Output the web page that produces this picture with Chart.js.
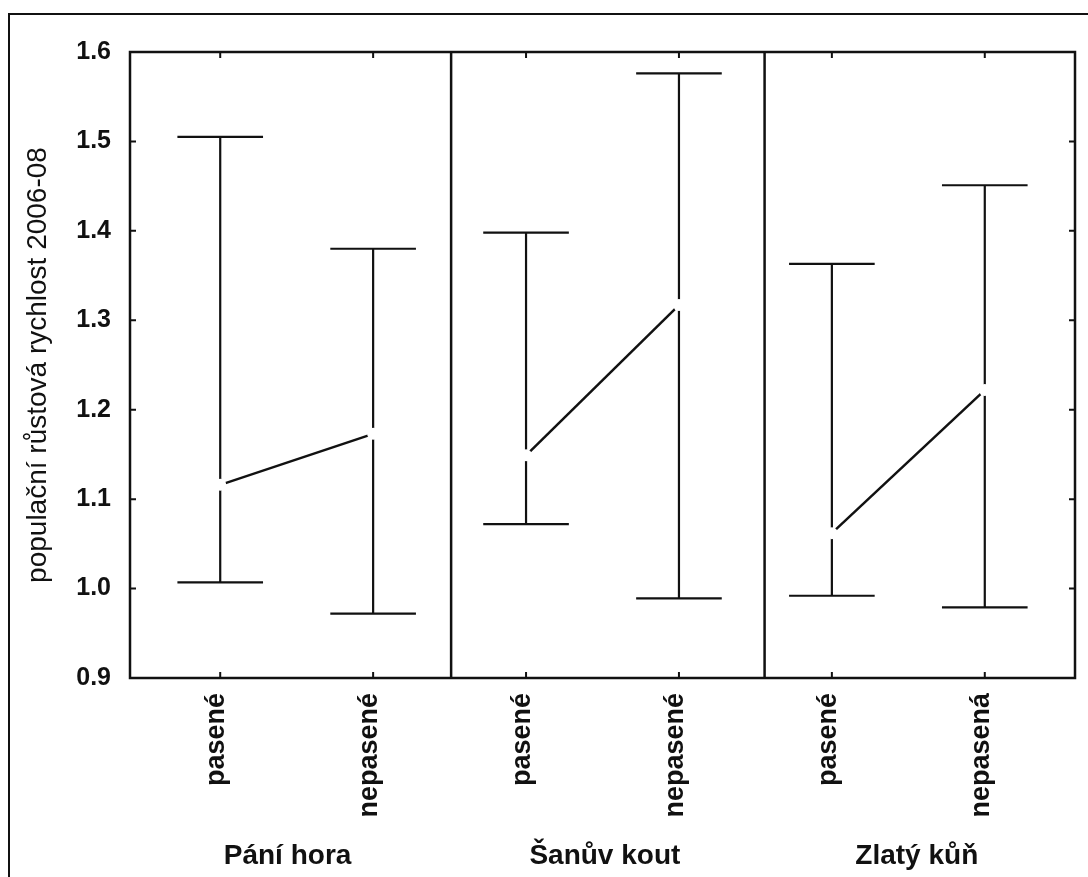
<!DOCTYPE html>
<html>
<head>
<meta charset="utf-8">
<script src="https://cdn.jsdelivr.net/npm/chart.js@4"></script>
<style>
  html, body { margin: 0; padding: 0; background: #fff; overflow: hidden; }
  #wrap { position: relative; width: 1088px; height: 877px; overflow: hidden; }
  #frame { position: absolute; left: 8px; top: 13px; width: 1200px; height: 1000px; border: 2px solid #111; }
  canvas { position: absolute; left: 0; top: 0; }
</style>
</head>
<body>
<div id="wrap">
  <div id="frame"></div>
  <canvas id="chart" width="1088" height="877"></canvas>
</div>
<script>
const sites = ['Pání hora', 'Šanův kout', 'Zlatý kůň'];
const treatments = ['pasené', 'nepasené', 'pasené', 'nepasené', 'pasené', 'nepasená'];
const means = [1.116, 1.173, 1.149, 1.317, 1.062, 1.222];
const upper = [1.505, 1.380, 1.398, 1.576, 1.363, 1.451];
const lower = [1.007, 0.972, 1.072, 0.989, 0.992, 0.979];
const yTicks = [0.9, 1.0, 1.1, 1.2, 1.3, 1.4, 1.5, 1.6];

const ink = '#111';
const family = '"Liberation Sans", Arial, sans-serif';
// where the panel separators sit on the x scale
const dividerAt = [1.51, 3.56];
const capHalf = 0.28;

// one line per site joining its two means
const datasets = sites.map((site, g) => ({
  label: site,
  data: [0, 1].map(j => ({ x: g * 2 + j, y: means[g * 2 + j] })),
  borderColor: ink,
  borderWidth: 2.5,
  pointRadius: 6,
  pointHoverRadius: 6,
  pointBorderWidth: 0,
  pointBackgroundColor: '#fff',
  pointBorderColor: '#fff',
  tension: 0,
}));

const panelFrame = {
  id: 'panelFrame',
  beforeDatasetsDraw(chart) {
    const { ctx, chartArea: a, scales: { x, y } } = chart;
    ctx.save();
    ctx.strokeStyle = ink;
    ctx.lineCap = 'butt';

    // whiskers with caps
    ctx.lineWidth = 2.2;
    means.forEach((m, i) => {
      const px = x.getPixelForValue(i);
      const left = x.getPixelForValue(i - capHalf);
      const right = x.getPixelForValue(i + capHalf);
      const top = y.getPixelForValue(upper[i]);
      const bot = y.getPixelForValue(lower[i]);
      ctx.beginPath();
      ctx.moveTo(px, top); ctx.lineTo(px, bot);
      ctx.moveTo(left, top); ctx.lineTo(right, top);
      ctx.moveTo(left, bot); ctx.lineTo(right, bot);
      ctx.stroke();
    });

    // box, separators and inward ticks
    ctx.lineWidth = 2.5;
    ctx.strokeRect(a.left, a.top, a.right - a.left, a.bottom - a.top);
    ctx.beginPath();
    dividerAt.forEach(v => {
      const px = x.getPixelForValue(v);
      ctx.moveTo(px, a.top); ctx.lineTo(px, a.bottom);
    });
    ctx.stroke();

    ctx.lineWidth = 2;
    ctx.beginPath();
    yTicks.forEach(v => {
      const py = y.getPixelForValue(v);
      ctx.moveTo(a.left, py); ctx.lineTo(a.left + 6, py);
      ctx.moveTo(a.right, py); ctx.lineTo(a.right - 6, py);
    });
    treatments.forEach((t, i) => {
      const px = x.getPixelForValue(i);
      ctx.moveTo(px, a.top); ctx.lineTo(px, a.top + 6);
      ctx.moveTo(px, a.bottom); ctx.lineTo(px, a.bottom - 6);
    });
    ctx.stroke();
    ctx.restore();
  },
  afterDraw(chart) {
    const { ctx, chartArea: a, scales: { x } } = chart;
    ctx.save();
    ctx.fillStyle = ink;

    // rotated treatment names under each tick
    ctx.font = 'bold 27px ' + family;
    ctx.textAlign = 'right';
    ctx.textBaseline = 'alphabetic';
    treatments.forEach((t, i) => {
      const px = x.getPixelForValue(i);
      ctx.save();
      ctx.translate(px + 4, a.bottom + 15);
      ctx.rotate(-Math.PI / 2);
      ctx.fillText(t, 0, 0);
      ctx.restore();
    });

    // site names centred under each panel
    const edges = [x.getPixelForValue(x.min), ...dividerAt.map(v => x.getPixelForValue(v)), x.getPixelForValue(x.max)];
    ctx.font = 'bold 28px ' + family;
    ctx.textAlign = 'center';
    sites.forEach((s, g) => {
      ctx.fillText(s, (edges[g] + edges[g + 1]) / 2 - 3, a.bottom + 186);
    });
    ctx.restore();
  }
};

new Chart(document.getElementById('chart'), {
  type: 'line',
  data: { datasets },
  options: {
    responsive: false,
    animation: false,
    events: [],
    layout: { padding: { left: 10, top: 52, right: 13, bottom: 199 } },
    plugins: { legend: { display: false }, tooltip: { enabled: false } },
    scales: {
      x: {
        type: 'linear',
        min: -0.59,
        max: 5.59,
        display: false,
      },
      y: {
        type: 'linear',
        min: 0.9,
        max: 1.6,
        afterBuildTicks: s => { s.ticks = yTicks.map(v => ({ value: v })); },
        afterFit: s => { s.width = 120; },
        grid: { display: false, drawTicks: false },
        border: { display: false },
        ticks: {
          color: ink,
          padding: 19,
          font: { family, size: 25, weight: 'bold' },
          callback: v => v.toFixed(1),
        },
        title: {
          display: true,
          text: 'populační růstová rychlost 2006-08',
          color: ink,
          font: { family, size: 28, weight: 'normal' },
          padding: { top: 11, bottom: 0 },
        },
      },
    },
  },
  plugins: [panelFrame],
});
</script>
</body>
</html>
